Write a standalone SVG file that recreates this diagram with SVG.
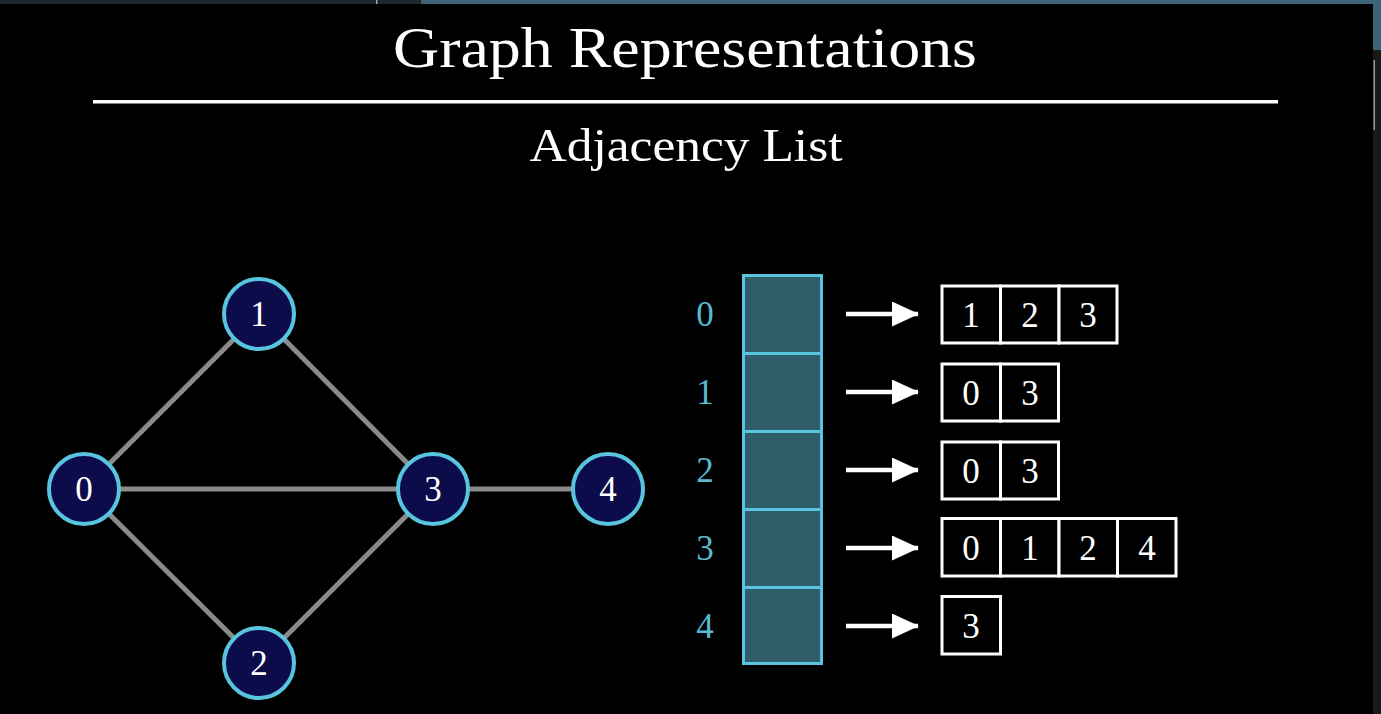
<svg xmlns="http://www.w3.org/2000/svg" width="1381" height="714" viewBox="0 0 1381 714">
<style>
.t{font-family:"Liberation Serif","Times New Roman",serif;fill:#ffffff;text-anchor:middle}
.d{font-size:35px}
.idx{font-family:"Liberation Serif","Times New Roman",serif;fill:#5ab8cf;font-size:35px;text-anchor:middle}
.node circle{fill:#0c0c4a;stroke:#58c4dd;stroke-width:4}
.edge{stroke:#8a8a8a;stroke-width:5}
.cell{fill:#2f5d6a;stroke:#58c4dd;stroke-width:3}
.box{fill:#000;stroke:#ffffff;stroke-width:3}
.arr{stroke:#fff;stroke-width:4.5}
</style>
<defs>
<marker id="ah" markerWidth="27" markerHeight="25" refX="26" refY="12.5" markerUnits="userSpaceOnUse" orient="auto">
<path d="M0,0 L27,12.5 L0,25 Z" fill="#fff"/>
</marker>
</defs>
<rect x="0" y="0" width="1381" height="714" fill="#000"/>
<!-- window chrome -->
<rect x="0" y="0" width="376" height="4" fill="#1f262d"/>
<rect x="376" y="0" width="1.5" height="4" fill="#8fb3bf"/>
<rect x="378" y="0" width="43" height="4" fill="#1f262d"/>
<rect x="421" y="0" width="960" height="4" fill="#3e6478"/>
<rect x="1373" y="0" width="8" height="50" fill="#3e6478"/>
<rect x="1373" y="50" width="8" height="664" fill="#1a1a1a"/>
<rect x="1373.5" y="60" width="1.5" height="70" fill="#9a9a9a"/>

<g id="title">
<text class="t" x="685" y="67" font-size="56" textLength="584" lengthAdjust="spacingAndGlyphs">Graph Representations</text>
<rect x="93" y="100" width="1185" height="3.5" fill="#fff"/>
<text class="t" x="686" y="161" font-size="46" textLength="313" lengthAdjust="spacingAndGlyphs">Adjacency List</text>
</g>

<g id="edges">
<line class="edge" x1="84" y1="489" x2="259" y2="314"/>
<line class="edge" x1="84" y1="489" x2="433" y2="489"/>
<line class="edge" x1="84" y1="489" x2="259" y2="663"/>
<line class="edge" x1="259" y1="314" x2="433" y2="489"/>
<line class="edge" x1="259" y1="663" x2="433" y2="489"/>
<line class="edge" x1="433" y1="489" x2="608" y2="489"/>
</g>

<g id="node0" class="node"><circle cx="84" cy="489" r="35"/><text class="t d" x="84" y="501">0</text></g>
<g id="node1" class="node"><circle cx="259" cy="314" r="35"/><text class="t d" x="259" y="326">1</text></g>
<g id="node2" class="node"><circle cx="259" cy="663" r="35"/><text class="t d" x="259" y="675">2</text></g>
<g id="node3" class="node"><circle cx="433" cy="489" r="35"/><text class="t d" x="433" y="501">3</text></g>
<g id="node4" class="node"><circle cx="608" cy="489" r="35"/><text class="t d" x="608" y="501">4</text></g>

<g id="array">
<rect class="cell" x="743.5" y="275.5" width="78" height="78"/>
<rect class="cell" x="743.5" y="353.5" width="78" height="78"/>
<rect class="cell" x="743.5" y="431.5" width="78" height="78"/>
<rect class="cell" x="743.5" y="509.5" width="78" height="78"/>
<rect class="cell" x="743.5" y="587.5" width="78" height="76"/>
<text class="idx" x="705" y="326">0</text>
<text class="idx" x="705" y="404">1</text>
<text class="idx" x="705" y="482">2</text>
<text class="idx" x="705" y="560">3</text>
<text class="idx" x="705" y="638">4</text>
</g>

<g id="connectors">
<line class="arr" x1="846" y1="314" x2="918" y2="314" marker-end="url(#ah)"/>
<line class="arr" x1="846" y1="392" x2="918" y2="392" marker-end="url(#ah)"/>
<line class="arr" x1="846" y1="470" x2="918" y2="470" marker-end="url(#ah)"/>
<line class="arr" x1="846" y1="548" x2="918" y2="548" marker-end="url(#ah)"/>
<line class="arr" x1="846" y1="626" x2="918" y2="626" marker-end="url(#ah)"/>
</g>

<g id="list0">
<rect class="box" x="942" y="286" width="58.5" height="57"/>
<rect class="box" x="1000.5" y="286" width="58.5" height="57"/>
<rect class="box" x="1059" y="286" width="58" height="57"/>
<text class="t d" x="971" y="327">1</text>
<text class="t d" x="1030" y="327">2</text>
<text class="t d" x="1088" y="327">3</text>
</g>
<g id="list1">
<rect class="box" x="942" y="364" width="58.5" height="57"/>
<rect class="box" x="1000.5" y="364" width="58" height="57"/>
<text class="t d" x="971" y="405">0</text>
<text class="t d" x="1030" y="405">3</text>
</g>
<g id="list2">
<rect class="box" x="942" y="442" width="58.5" height="57"/>
<rect class="box" x="1000.5" y="442" width="58" height="57"/>
<text class="t d" x="971" y="483">0</text>
<text class="t d" x="1030" y="483">3</text>
</g>
<g id="list3">
<rect class="box" x="942" y="518.5" width="58.5" height="57.5"/>
<rect class="box" x="1000.5" y="518.5" width="58.5" height="57.5"/>
<rect class="box" x="1059" y="518.5" width="58.5" height="57.5"/>
<rect class="box" x="1117.5" y="518.5" width="58.5" height="57.5"/>
<text class="t d" x="971" y="560">0</text>
<text class="t d" x="1030" y="560">1</text>
<text class="t d" x="1088" y="560">2</text>
<text class="t d" x="1147" y="560">4</text>
</g>
<g id="list4">
<rect class="box" x="942" y="596.5" width="58.5" height="57.5"/>
<text class="t d" x="971" y="638">3</text>
</g>
</svg>
